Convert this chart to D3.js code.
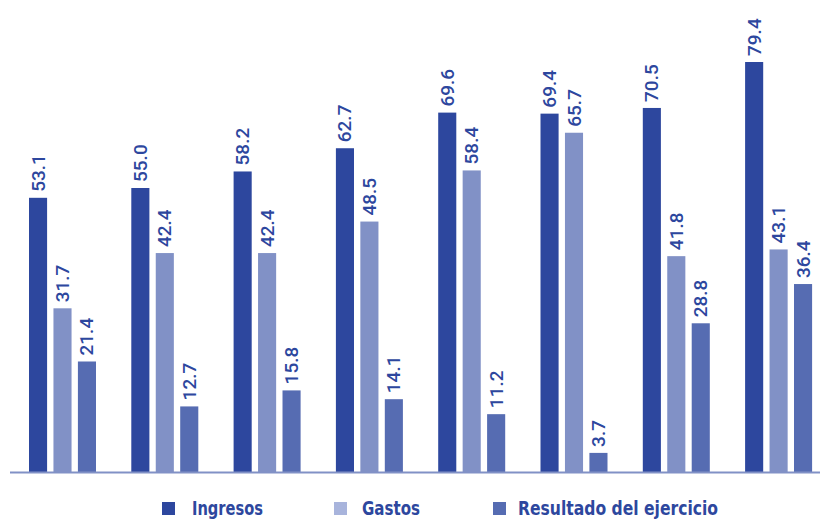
<!DOCTYPE html>
<html>
<head>
<meta charset="utf-8">
<style>
  body { margin: 0; background: #fff; }
</style>
</head>
<body>
<script src="https://d3js.org/d3.v7.min.js"></script>
<script>
const groups = ['1', '2', '3', '4', '5', '6', '7', '8'];
const series = ['Ingresos', 'Gastos', 'Resultado del ejercicio'];
const ingresos = [53.1, 55.0, 58.2, 62.7, 69.6, 69.4, 70.5, 79.4];
const gastos = [31.7, 42.4, 42.4, 48.5, 58.4, 65.7, 41.8, 43.1];
const resultado = [21.4, 12.7, 15.8, 14.1, 11.2, 3.7, 28.8, 36.4];

const WIDTH = 820, HEIGHT = 519;
const BASE = 472;
const colors = ['#2d479e', '#8191c6', '#566cb2'];
const legendColors = ['#2d479e', '#a8b4dc', '#566cb2'];
const textColor = '#2d479e';

const svg = d3.select('body').append('svg')
  .attr('width', WIDTH).attr('height', HEIGHT);

const values = [ingresos, gastos, resultado];

// escala de grupos
const x0 = d3.scaleBand()
  .domain(groups)
  .range([29 - 0.2 * 102.3, 29 + 7.8 * 102.3])
  .paddingInner(0)
  .paddingOuter(0);

const x1 = d3.scaleBand()
  .domain(series)
  .range([0.2 * 102.3, 0.2 * 102.3 + 67])
  .paddingInner(0.26)
  .paddingOuter(0);

const y = d3.scaleLinear()
  .domain([0, 79.4])
  .range([BASE, 62]);

const g = svg.append('g');

groups.forEach((grp, i) => {
  series.forEach((s, j) => {
    const v = values[j][i];
    const bx = x0(grp) + x1(s);
    g.append('rect')
      .attr('x', bx)
      .attr('y', y(v))
      .attr('width', x1.bandwidth())
      .attr('height', BASE - y(v))
      .attr('fill', colors[j]);
    const cx = bx + x1.bandwidth() / 2;
    const ty = y(v) - 6;
    g.append('text')
      .attr('transform', `translate(${cx + 6.5},${ty}) rotate(-90)`)
      .attr('fill', textColor)
      .attr('font-family', 'Roboto, sans-serif')
      .attr('font-weight', 500)
      .attr('font-size', 19)
      .text(v.toFixed(1));
  });
});

// linea base
svg.append('line')
  .attr('x1', 10).attr('x2', 820)
  .attr('y1', BASE + 0.5).attr('y2', BASE + 0.5)
  .attr('stroke', '#8191c6')
  .attr('stroke-width', 2);

// leyenda
const legendX = [162, 334, 493];
const legendTextX = [192, 362, 518];
const legendTextW = [71, 58, 200];
series.forEach((s, j) => {
  svg.append('rect')
    .attr('x', legendX[j]).attr('y', 502)
    .attr('width', 13).attr('height', 13)
    .attr('fill', legendColors[j]);
  svg.append('text')
    .attr('x', legendTextX[j]).attr('y', 515)
    .attr('fill', textColor)
    .attr('font-family', '"DejaVu Sans Condensed", "DejaVu Sans", sans-serif')
    .attr('font-stretch', 'condensed')
    .attr('font-weight', 'bold')
    .attr('font-size', 19)
    .attr('textLength', legendTextW[j])
    .attr('lengthAdjust', 'spacingAndGlyphs')
    .text(s);
});
</script>
</body>
</html>
